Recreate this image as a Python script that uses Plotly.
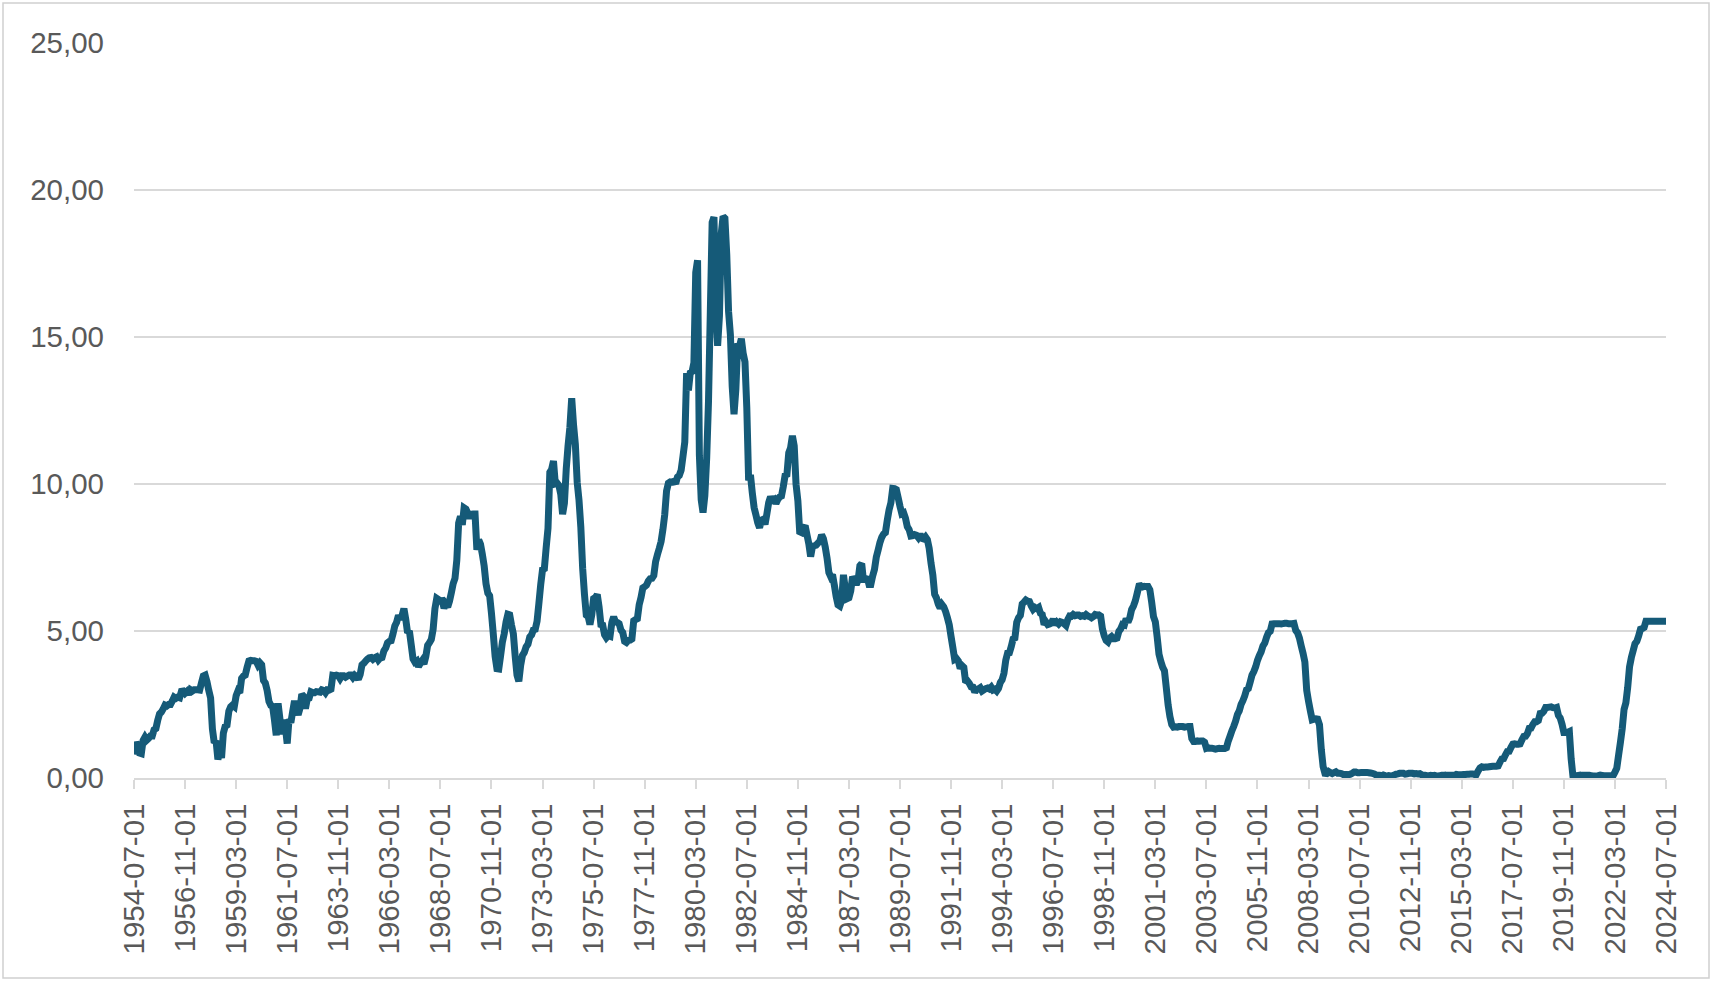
import pandas as pd
import plotly.graph_objects as go

# Monthly effective federal funds rate (%), 1954-07 .. 2024-07
rates_1950s = [
    0.80, 1.22, 1.07, 0.85, 0.83, 1.28,
    1.39, 1.29, 1.35, 1.43, 1.43, 1.64, 1.68, 1.96, 2.18, 2.24, 2.35, 2.48,
    2.45, 2.50, 2.50, 2.62, 2.75, 2.71, 2.75, 2.73, 2.95, 2.96, 2.88, 2.94,
    2.84, 3.00, 2.96, 3.00, 3.00, 3.00, 2.99, 3.24, 3.47, 3.50, 3.28, 2.98,
    2.72, 1.67, 1.20, 1.26, 0.63, 0.93, 0.68, 1.53, 1.76, 1.80, 2.27, 2.42,
    2.48, 2.43, 2.80, 2.96, 2.90, 3.39, 3.47, 3.50, 3.76, 3.98, 4.00, 3.99,
]
rates_1960s = [
    3.99, 3.97, 3.84, 3.92, 3.85, 3.32, 3.23, 2.98, 2.60, 2.47, 2.44, 1.98,
    1.45, 2.54, 2.02, 1.49, 1.98, 1.73, 1.17, 2.00, 1.88, 2.26, 2.62, 2.33,
    2.15, 2.37, 2.85, 2.78, 2.36, 2.68, 2.71, 2.93, 2.90, 2.90, 2.94, 2.93,
    2.92, 3.00, 2.98, 2.90, 3.00, 2.99, 3.02, 3.49, 3.48, 3.50, 3.48, 3.38,
    3.48, 3.48, 3.43, 3.47, 3.50, 3.50, 3.42, 3.50, 3.45, 3.36, 3.52, 3.85,
    3.90, 3.98, 4.04, 4.09, 4.10, 4.04, 4.09, 4.12, 4.01, 4.08, 4.10, 4.32,
    4.42, 4.60, 4.65, 4.67, 4.90, 5.17, 5.30, 5.53, 5.40, 5.53, 5.76, 5.40,
    4.94, 5.00, 4.53, 4.05, 3.94, 3.98, 3.79, 3.90, 3.99, 3.88, 4.13, 4.51,
    4.60, 4.71, 5.05, 5.76, 6.11, 6.07, 6.02, 6.03, 5.78, 5.91, 5.82, 6.02,
    6.30, 6.61, 6.79, 7.41, 8.67, 8.90, 8.61, 9.19, 9.15, 9.00, 8.85, 8.97,
]
rates_1970s = [
    8.98, 8.98, 7.76, 8.10, 7.95, 7.61, 7.21, 6.61, 6.29, 6.20, 5.60, 4.90,
    4.14, 3.72, 3.71, 4.16, 4.63, 4.91, 5.31, 5.57, 5.55, 5.20, 4.91, 4.14,
    3.50, 3.29, 3.83, 4.17, 4.27, 4.46, 4.55, 4.80, 4.87, 5.04, 5.06, 5.33,
    5.94, 6.58, 7.09, 7.12, 7.84, 8.49, 10.40, 10.50, 10.78, 10.01, 10.03, 9.95,
    9.65, 8.97, 9.35, 10.51, 11.31, 11.93, 12.92, 12.01, 11.34, 10.06, 9.45, 8.53,
    7.13, 6.24, 5.54, 5.49, 5.22, 5.55, 6.10, 6.14, 6.24, 5.82, 5.22, 5.20,
    4.87, 4.77, 4.84, 4.82, 5.29, 5.48, 5.31, 5.29, 5.25, 5.03, 4.95, 4.65,
    4.61, 4.68, 4.69, 4.73, 5.35, 5.39, 5.42, 5.90, 6.14, 6.47, 6.51, 6.56,
    6.70, 6.78, 6.79, 6.89, 7.36, 7.60, 7.81, 8.04, 8.45, 8.96, 9.76, 10.03,
    10.07, 10.06, 10.09, 10.01, 10.24, 10.29, 10.47, 10.94, 11.43, 13.77, 13.18, 13.78,
]
rates_1980s = [
    13.82, 14.13, 17.19, 17.61, 10.98, 9.47, 9.03, 9.61, 10.87, 12.81, 15.85, 18.90,
    19.08, 15.93, 14.70, 15.72, 18.52, 19.10, 19.04, 17.82, 15.87, 15.08, 13.31, 12.37,
    13.22, 14.78, 14.68, 14.94, 14.45, 14.15, 12.59, 10.12, 10.31, 9.71, 9.20, 8.95,
    8.68, 8.51, 8.77, 8.80, 8.63, 8.98, 9.37, 9.56, 9.45, 9.48, 9.34, 9.47,
    9.56, 9.59, 9.91, 10.29, 10.32, 11.06, 11.23, 11.64, 11.30, 9.99, 9.43, 8.38,
    8.35, 8.50, 8.58, 8.27, 7.97, 7.53, 7.88, 7.90, 7.92, 7.99, 8.05, 8.27,
    8.14, 7.86, 7.48, 6.99, 6.85, 6.92, 6.56, 6.17, 5.89, 5.85, 6.04, 6.91,
    6.43, 6.10, 6.13, 6.37, 6.85, 6.73, 6.58, 6.73, 7.22, 7.29, 6.69, 6.77,
    6.83, 6.58, 6.58, 6.87, 7.09, 7.51, 7.75, 8.01, 8.19, 8.30, 8.35, 8.76,
    9.12, 9.36, 9.85, 9.84, 9.81, 9.53, 9.24, 8.99, 9.02, 8.84, 8.55, 8.45,
]
rates_1990s = [
    8.23, 8.24, 8.28, 8.26, 8.18, 8.29, 8.15, 8.13, 8.20, 8.11, 7.81, 7.31,
    6.91, 6.25, 6.12, 5.91, 5.78, 5.90, 5.82, 5.66, 5.45, 5.21, 4.81, 4.43,
    4.03, 4.06, 3.98, 3.73, 3.82, 3.76, 3.25, 3.30, 3.22, 3.10, 3.09, 2.92,
    3.02, 3.03, 3.07, 2.96, 3.00, 3.04, 3.06, 3.03, 3.09, 2.99, 3.02, 2.96,
    3.05, 3.25, 3.34, 3.56, 4.01, 4.25, 4.26, 4.47, 4.73, 4.76, 5.29, 5.45,
    5.53, 5.92, 5.98, 6.05, 6.01, 6.00, 5.85, 5.74, 5.80, 5.76, 5.80, 5.60,
    5.56, 5.22, 5.31, 5.22, 5.24, 5.27, 5.40, 5.22, 5.30, 5.24, 5.31, 5.29,
    5.25, 5.19, 5.39, 5.51, 5.50, 5.56, 5.52, 5.54, 5.54, 5.50, 5.52, 5.50,
    5.56, 5.51, 5.49, 5.45, 5.49, 5.56, 5.54, 5.55, 5.51, 5.07, 4.83, 4.68,
    4.63, 4.76, 4.81, 4.74, 4.74, 4.76, 4.99, 5.07, 5.22, 5.20, 5.42, 5.30,
]
rates_2000s = [
    5.45, 5.73, 5.85, 6.02, 6.27, 6.53, 6.54, 6.50, 6.52, 6.51, 6.51, 6.40,
    5.98, 5.49, 5.31, 4.80, 4.21, 3.97, 3.77, 3.65, 3.07, 2.49, 2.09, 1.82,
    1.73, 1.74, 1.73, 1.75, 1.75, 1.75, 1.73, 1.74, 1.75, 1.75, 1.34, 1.24,
    1.24, 1.26, 1.25, 1.26, 1.26, 1.22, 1.01, 1.03, 1.01, 1.01, 1.00, 0.98,
    1.00, 1.01, 1.00, 1.00, 1.00, 1.03, 1.26, 1.43, 1.61, 1.76, 1.93, 2.16,
    2.28, 2.50, 2.63, 2.79, 3.00, 3.04, 3.26, 3.50, 3.62, 3.78, 4.00, 4.16,
    4.29, 4.49, 4.59, 4.79, 4.94, 4.99, 5.24, 5.25, 5.25, 5.25, 5.25, 5.24,
    5.25, 5.26, 5.26, 5.25, 5.25, 5.25, 5.26, 5.02, 4.94, 4.76, 4.49, 4.24,
    3.94, 2.98, 2.61, 2.28, 1.98, 2.00, 2.01, 2.00, 1.81, 0.97, 0.39, 0.16,
    0.15, 0.22, 0.18, 0.15, 0.18, 0.21, 0.16, 0.16, 0.15, 0.12, 0.12, 0.12,
]
rates_2010s = [
    0.11, 0.13, 0.16, 0.20, 0.20, 0.18, 0.18, 0.19, 0.19, 0.19, 0.19, 0.18,
    0.17, 0.16, 0.14, 0.10, 0.09, 0.09, 0.07, 0.10, 0.08, 0.07, 0.08, 0.07,
    0.08, 0.10, 0.13, 0.14, 0.16, 0.16, 0.16, 0.13, 0.14, 0.16, 0.16, 0.16,
    0.14, 0.15, 0.14, 0.15, 0.11, 0.09, 0.09, 0.08, 0.08, 0.09, 0.08, 0.09,
    0.07, 0.07, 0.08, 0.09, 0.09, 0.10, 0.09, 0.09, 0.09, 0.09, 0.09, 0.12,
    0.11, 0.11, 0.11, 0.12, 0.12, 0.13, 0.13, 0.14, 0.14, 0.12, 0.12, 0.24,
    0.34, 0.38, 0.36, 0.37, 0.37, 0.38, 0.39, 0.40, 0.40, 0.40, 0.41, 0.54,
    0.65, 0.66, 0.79, 0.90, 0.91, 1.04, 1.15, 1.16, 1.15, 1.15, 1.16, 1.30,
    1.41, 1.42, 1.51, 1.69, 1.70, 1.82, 1.91, 1.91, 1.95, 2.19, 2.20, 2.27,
    2.40, 2.40, 2.41, 2.42, 2.39, 2.38, 2.40, 2.13, 2.04, 1.83, 1.55, 1.55,
]
rates_2020s = [
    1.55, 1.58, 0.65, 0.05, 0.05, 0.08, 0.09, 0.10, 0.09, 0.09, 0.09, 0.09,
    0.09, 0.08, 0.07, 0.07, 0.06, 0.08, 0.10, 0.09, 0.08, 0.08, 0.08, 0.08,
    0.08, 0.08, 0.20, 0.33, 0.77, 1.21, 1.68, 2.33, 2.56, 3.08, 3.78, 4.10,
    4.33, 4.57, 4.65, 4.83, 5.06, 5.08, 5.12, 5.33, 5.33, 5.33, 5.33, 5.33,
    5.33, 5.33, 5.33, 5.33, 5.33, 5.33, 5.33,
]

rates = (rates_1950s + rates_1960s + rates_1970s + rates_1980s +
         rates_1990s + rates_2000s + rates_2010s + rates_2020s)
dates = [d.strftime("%Y-%m-%d") for d in pd.date_range("1954-07-01", periods=len(rates), freq="MS")]

tick_step = 28
tick_vals = dates[::tick_step]
y_ticks = [0, 5, 10, 15, 20, 25]
y_labels = [f"{v:.2f}".replace(".", ",") for v in y_ticks]

W, H = 1713, 983
L, R, T, B = 134, 47, 43, 205
pw, ph = W - L - R, H - T - B

fig = go.Figure()
fig.add_trace(go.Scatter(
    x=dates, y=rates, mode="lines",
    line=dict(color="#155A78", width=7, simplify=False),
    hoverinfo="x+y",
))

font_color = "#595959"
fig.update_layout(
    width=W, height=H,
    margin=dict(l=L, r=R, t=T, b=B),
    paper_bgcolor="white", plot_bgcolor="white",
    showlegend=False,
    font=dict(family="Liberation Sans, Arial, sans-serif", size=29.5, color=font_color),
    xaxis=dict(
        type="category",
        range=[0, len(rates) - 1],
        tickmode="array", tickvals=tick_vals, ticktext=tick_vals,
        tickangle=-90,
        ticks="outside", ticklen=9, tickwidth=1.5, tickcolor="#d9d9d9",
        showline=True, linecolor="#d9d9d9", linewidth=1.5,
        showgrid=False, zeroline=False,
        tickfont=dict(size=29.5, color=font_color),
        ticklabelstandoff=3,
    ),
    yaxis=dict(
        range=[0, 25],
        tickmode="array", tickvals=y_ticks, ticktext=y_labels,
        showgrid=True, gridcolor="#d9d9d9", gridwidth=1.5,
        zeroline=False, showline=False, ticks="",
        tickfont=dict(size=29.5, color=font_color),
        ticklabelstandoff=29,
    ),
    shapes=[dict(
        type="rect", xref="paper", yref="paper",
        x0=(3 - L) / pw, x1=(1709 - L) / pw,
        y0=(H - B - 978) / ph, y1=(H - B - 3) / ph,
        line=dict(color="#d0d0d0", width=1.5), fillcolor="rgba(0,0,0,0)",
        layer="below",
    )],
)

fig.write_html(
    "out.html",
    config={"displayModeBar": False},
    post_script="document.body.style.margin='0';document.body.style.overflow='hidden';",
)
